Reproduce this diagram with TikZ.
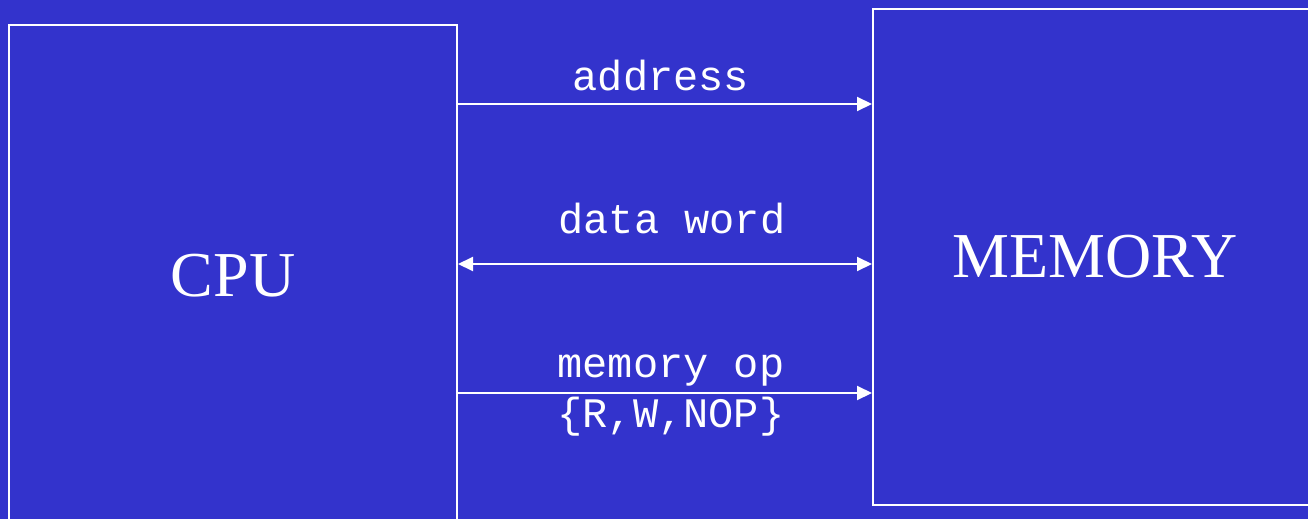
\documentclass[tikz,border=0pt]{standalone}
\usepackage{fontspec}
\setmainfont{Liberation Serif}
\setmonofont{Liberation Mono}
\usepackage{tikz}
\usetikzlibrary{arrows.meta}
\definecolor{slideblue}{RGB}{51, 51, 204}

\begin{document}
\begin{tikzpicture}[x = 1pt, y = -1pt, line width = 2pt, white,
		>= {Triangle[length = 15pt, width = 14pt]},
		unit/.style = {draw, font = \fontsize{64}{64}\selectfont},
		sig/.style = {anchor = base, font = \fontsize{42}{42}\selectfont\ttfamily}]
			\fill [slideblue] (0,0) rectangle (1308,519);
			\useasboundingbox (0,0) rectangle (1308,519);
			\node (cpu) at (233,276) [unit, minimum width = 448pt, minimum height = 502pt] {CPU};
			\node (mem) at (1108,257) [unit, minimum width = 470pt, minimum height = 495pt] {\hspace*{-26pt}MEMORY};
			\coordinate (a) at (660,104);
			\coordinate (d) at (660,264);
			\coordinate (m) at (660,393);
			\node (la) at (661,90) [sig] {address};
			\node (ld) at (672,233) [sig] {data word};
			\node (lm) at (671,377) [sig] {memory op};
			\node (lo) at (671,427) [sig] {\{R,W,NOP\}};
			\draw [->] (cpu.east |- a) -- (mem.west |- a);
			\draw [<->] (cpu.east |- d) -- (mem.west |- d);
			\draw [->] (cpu.east |- m) -- (mem.west |- m);
			\end{tikzpicture}
\end{document}
